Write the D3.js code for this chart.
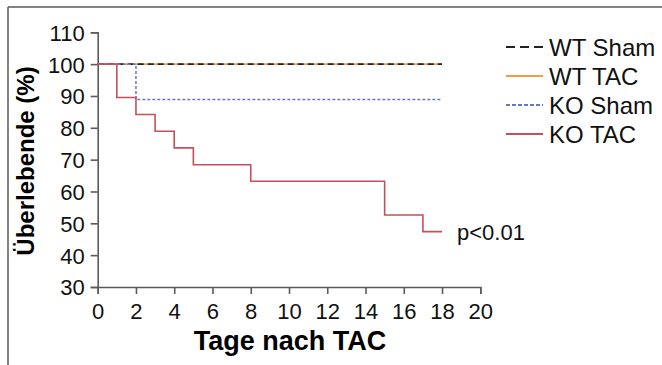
<!DOCTYPE html>
<html>
<head>
<meta charset="utf-8">
<script src="https://cdn.jsdelivr.net/npm/d3@7"></script>
<style>
  body { margin: 0; background: #fff; }
  text { font-family: "Liberation Sans", Arial, sans-serif; }
</style>
</head>
<body>
<svg id="chart" width="662" height="365"></svg>
<script>
// Survival data (day, percent)
const wtSham = [[0, 100], [18, 100]];
const wtTac = [[0, 100], [18, 100]];
const koSham = [[0, 100], [2, 100], [2, 88.9], [18, 88.9]];
const koTac = [
  [0, 100], [1, 100], [1, 89.5], [2, 89.5], [2, 84.2], [3, 84.2], [3, 78.9],
  [4, 78.9], [4, 73.7], [5, 73.7], [5, 68.4], [8, 68.4], [8, 63.2],
  [15, 63.2], [15, 52.6], [17, 52.6], [17, 47.4], [18, 47.4]
];
const xTicks = [0, 2, 4, 6, 8, 10, 12, 14, 16, 18, 20];
const yTicks = [30, 40, 50, 60, 70, 80, 90, 100, 110];
const seriesNames = ["WT Sham", "WT TAC", "KO Sham", "KO TAC"];

const svg = d3.select("#chart");
const axisColor = "#5a5a5a";

// Frame (top + left)
svg.append("line").attr("x1", 8).attr("x2", 662).attr("y1", 7).attr("y2", 7)
  .attr("stroke", axisColor).attr("stroke-width", 1.5);
svg.append("line").attr("x1", 8).attr("x2", 8).attr("y1", 7).attr("y2", 365)
  .attr("stroke", axisColor).attr("stroke-width", 1.5);

const x = d3.scaleLinear().domain([0, 20]).range([97.7, 480.3]);
const y = d3.scaleLinear().domain([30, 110]).range([287, 32.3]);

// Axes
const xAxis = svg.append("g")
  .attr("transform", `translate(0,${y(30)})`)
  .call(d3.axisBottom(x).tickValues(xTicks).tickSizeOuter(0).tickSize(7).tickPadding(8));
const yAxis = svg.append("g")
  .attr("transform", `translate(${x(0)},0)`)
  .call(d3.axisLeft(y).tickValues(yTicks).tickSizeOuter(0).tickSize(7).tickPadding(6));

[xAxis, yAxis].forEach(g => {
  g.select(".domain").attr("stroke", axisColor).attr("stroke-width", 1.6);
  g.selectAll(".tick line").attr("stroke", axisColor).attr("stroke-width", 1.6);
  g.selectAll(".tick text").attr("fill", "#111").style("font-size", "22px")
    .style("font-family", "'Liberation Sans', Arial, sans-serif");
});
xAxis.selectAll(".tick text").attr("dy", "0.78em");
yAxis.selectAll(".tick text").attr("dy", "0.36em");

// Axis titles
svg.append("text")
  .attr("x", 290).attr("y", 350)
  .attr("text-anchor", "middle")
  .style("font-size", "27px").style("font-weight", "bold")
  .text("Tage nach TAC");
svg.append("text")
  .attr("transform", `translate(34,161) rotate(-90)`)
  .attr("text-anchor", "middle")
  .style("font-size", "24px").style("font-weight", "bold")
  .text("Überlebende (%)");

// Series
const line = d3.line().x(d => x(d[0])).y(d => y(d[1]));
const styles = [
  { data: wtTac, color: "#f29b4b", dash: null, legendDash: null, width: 1.6 },
  { data: wtSham, color: "#222", dash: "6,4", legendDash: "9,5", width: 1.6 },
  { data: koSham, color: "#6677c8", dash: "3,2", legendDash: "4,2", width: 1.5 },
  { data: koTac, color: "#c4505a", dash: null, legendDash: null, width: 1.6 }
];
styles.forEach(s => {
  svg.append("path").datum(s.data)
    .attr("d", line)
    .attr("fill", "none")
    .attr("stroke", s.color)
    .attr("stroke-width", s.width)
    .attr("stroke-dasharray", s.dash);
});

// Legend
const legendStyles = [styles[1], styles[0], styles[2], styles[3]];
const legendY = [47, 76, 105, 134];
seriesNames.forEach((name, i) => {
  const s = legendStyles[i];
  svg.append("line")
    .attr("x1", 506).attr("x2", 543)
    .attr("y1", legendY[i]).attr("y2", legendY[i])
    .attr("stroke", s.color).attr("stroke-width", s.width + 0.4)
    .attr("stroke-dasharray", s.legendDash);
  svg.append("text")
    .attr("x", 549).attr("y", legendY[i])
    .attr("dy", "0.36em")
    .style("font-size", "24px").attr("fill", "#111")
    .text(name);
});

// p-value annotation
svg.append("text")
  .attr("x", 457).attr("y", 232).attr("dy", "0.36em")
  .style("font-size", "22px").attr("fill", "#111")
  .text("p<0.01");
</script>
</body>
</html>
